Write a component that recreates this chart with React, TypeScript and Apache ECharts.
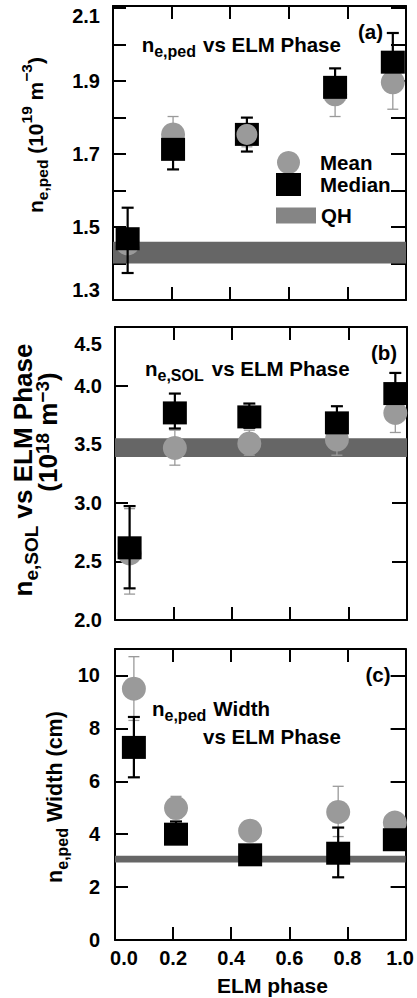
import React, { useEffect, useRef } from 'react';
import * as echarts from 'echarts';

// ---------- data ----------
const xTickValues = [0, 0.2, 0.4, 0.6, 0.8, 1.0];
const xTickLabels = ['0.0', '0.2', '0.4', '0.6', '0.8', '1.0'];

// panel (a): n_e,ped (1e19 m^-3)
const phaseA = [0.05, 0.205, 0.457, 0.758, 0.955];
const meanA = [1.455, 1.754, 1.754, 1.864, 1.897];
const meanLoA = [1.43, 1.72, 1.72, 1.803, 1.823];
const meanHiA = [1.48, 1.803, 1.78, 1.88, 1.95];
const medianA = [1.468, 1.713, 1.754, 1.883, 1.952];
const medLoA = [1.374, 1.658, 1.707, 1.86, 1.93];
const medHiA = [1.553, 1.74, 1.8, 1.935, 2.032];
const qhA = [1.4, 1.46];
const yLabelsA = [1.3, 1.5, 1.7, 1.9, 2.1];
const meanOnTopA = [2];

// panel (b): n_e,SOL (1e18 m^-3)
const phaseB = [0.05, 0.205, 0.46, 0.76, 0.96];
const meanB = [2.568, 3.468, 3.506, 3.54, 3.767];
const meanLoB = [2.221, 3.321, 3.406, 3.406, 3.6];
const meanHiB = [2.95, 3.62, 3.62, 3.6, 3.85];
const medianB = [2.616, 3.767, 3.733, 3.682, 3.932];
const medLoB = [2.27, 3.634, 3.64, 3.62, 3.88];
const medHiB = [2.972, 3.932, 3.847, 3.824, 4.108];
const qhB = [3.39, 3.55];
const yLabelsB = [2.0, 2.5, 3.0, 3.5, 4.0, 4.5];

// panel (c): n_e,ped width (cm)
const phaseC = [0.065, 0.21, 0.465, 0.768, 0.963];
const meanC = [9.5, 4.99, 4.13, 4.84, 4.44];
const meanLoC = [8.3, 4.6, 3.9, 3.91, 4.2];
const meanHiC = [10.71, 5.43, 4.35, 5.81, 4.7];
const medianC = [7.28, 4.0, 3.22, 3.28, 3.79];
const medLoC = [6.15, 3.7, 3.0, 2.37, 3.5];
const medHiC = [8.43, 4.48, 3.45, 4.25, 4.1];
const qhC = [2.93, 3.18];
const yLabelsC = [0, 2, 4, 6, 8, 10];

// ---------- styling ----------
const FONT = 'Liberation Sans, Arial, Helvetica, sans-serif';
const MEAN_COLOR = '#9a9a9a';
const QH_COLOR = '#666666';

const grids = [
  { left: 113, top: 6, width: 293, height: 294 },
  { left: 115, top: 327, width: 292, height: 293 },
  { left: 115, top: 649, width: 293, height: 291 },
];

const yAxisDefs = [
  { min: 1.3, max: 2.106, interval: 0.1, labels: yLabelsA, dec: 1, loPad: 20, hiPad: 16, margin: 13 },
  { min: 2.0, max: 4.5, interval: 0.5, labels: yLabelsB, dec: 1, loPad: 0, hiPad: 34, margin: 13 },
  { min: 0, max: 11, interval: 2, labels: yLabelsC, dec: 0, loPad: 0, hiPad: 0, margin: 15 },
];

const labelFont = { fontSize: 20, fontWeight: 'bold' as const, fontFamily: FONT, color: '#000' };

function near(a: number, b: number) {
  return Math.abs(a - b) < 1e-6;
}

function errorBar(color: string, width: number, cap: number) {
  return (params: any, api: any) => {
    const x = api.value(0);
    const lo = api.value(1);
    const hi = api.value(2);
    const pLo = api.coord([x, lo]);
    const pHi = api.coord([x, hi]);
    const style = { stroke: color, lineWidth: width, fill: 'none' };
    return {
      type: 'group',
      children: [
        { type: 'line', shape: { x1: pLo[0], y1: pLo[1], x2: pHi[0], y2: pHi[1] }, style },
        { type: 'line', shape: { x1: pLo[0] - cap / 2, y1: pLo[1], x2: pLo[0] + cap / 2, y2: pLo[1] }, style },
        { type: 'line', shape: { x1: pHi[0] - cap / 2, y1: pHi[1], x2: pHi[0] + cap / 2, y2: pHi[1] }, style },
      ],
    };
  };
}

function richText(size: number, sub: number, subShift: number, gap: number, supShift: number) {
  const base = { fontSize: size, fontWeight: 'bold', fontFamily: FONT, fill: '#000' };
  return {
    m: { ...base },
    s: { ...base, fontSize: sub, padding: [subShift * 2, 0, 0, 0] },
    p: { ...base, fontSize: sub, padding: [0, 0, supShift * 2, 0] },
    v: { ...base, padding: [0, 0, 0, gap] },
  };
}

function gText(
  text: string,
  x: number,
  y: number,
  size: number,
  sub: number,
  align: string,
  rotation = 0,
  subShift = 7,
  gap = 0,
  supShift = 9,
) {
  return {
    type: 'text',
    x,
    y,
    rotation,
    silent: true,
    style: {
      text,
      rich: richText(size, sub, subShift, gap, supShift),
      fontSize: size,
      fontWeight: 'bold',
      fontFamily: FONT,
      fill: '#000',
      align,
      verticalAlign: 'middle',
    },
  };
}

function buildOption() {
  const xAxis: any[] = [];
  const yAxis: any[] = [];
  grids.forEach((_, i) => {
    const bottomLabels = i === 2;
    xAxis.push({
      type: 'value',
      gridIndex: i,
      position: 'bottom',
      min: 0,
      max: 1,
      interval: 0.2,
      axisLine: { show: true, onZero: false, lineStyle: { color: '#000', width: 2 } },
      axisTick: { show: true, inside: true, length: 13, lineStyle: { color: '#000', width: 2 } },
      splitLine: { show: false },
      axisLabel: {
        show: bottomLabels,
        margin: 8,
        ...labelFont,
        formatter: (v: number) => {
          const idx = xTickValues.findIndex((t) => near(t, v));
          if (idx < 0) return '';
          if (idx === 0) return `{first|${xTickLabels[idx]}}`;
          if (idx === xTickValues.length - 1) return `{last|${xTickLabels[idx]}}`;
          return xTickLabels[idx];
        },
        rich: {
          first: { ...labelFont, padding: [0, 0, 0, 18] },
          last: { ...labelFont, padding: [0, 11, 0, 0] },
        },
      },
    });
    xAxis.push({
      type: 'value',
      gridIndex: i,
      position: 'top',
      min: 0,
      max: 1,
      interval: 0.2,
      axisLine: { show: true, onZero: false, lineStyle: { color: '#000', width: 2 } },
      axisTick: { show: true, inside: true, length: 13, lineStyle: { color: '#000', width: 2 } },
      splitLine: { show: false },
      axisLabel: { show: false },
    });
    const d = yAxisDefs[i];
    yAxis.push({
      type: 'value',
      gridIndex: i,
      position: 'left',
      min: d.min,
      max: d.max,
      interval: d.interval,
      axisLine: { show: true, onZero: false, lineStyle: { color: '#000', width: 2 } },
      axisTick: { show: true, inside: true, length: 13, lineStyle: { color: '#000', width: 2 } },
      splitLine: { show: false },
      axisLabel: {
        show: true,
        margin: d.margin,
        ...labelFont,
        formatter: (v: number) => {
          const idx = d.labels.findIndex((l) => near(l, v));
          if (idx < 0) return '';
          const txt = d.labels[idx].toFixed(d.dec);
          if (idx === 0 && d.loPad) return `{lo|${txt}}`;
          if (idx === d.labels.length - 1 && d.hiPad) return `{hi|${txt}}`;
          return txt;
        },
        rich: {
          lo: { ...labelFont, padding: [0, 0, d.loPad, 0] },
          hi: { ...labelFont, padding: [d.hiPad, 0, 0, 0] },
        },
      },
    });
    yAxis.push({
      type: 'value',
      gridIndex: i,
      position: 'right',
      min: d.min,
      max: d.max,
      interval: d.interval,
      axisLine: { show: true, onZero: false, lineStyle: { color: '#000', width: 2 } },
      axisTick: { show: true, inside: true, length: 15, lineStyle: { color: '#000', width: 2 } },
      splitLine: { show: false },
      axisLabel: { show: false },
    });
  });

  const panels = [
    { phase: phaseA, mean: meanA, mLo: meanLoA, mHi: meanHiA, med: medianA, dLo: medLoA, dHi: medHiA, qh: qhA, top: meanOnTopA },
    { phase: phaseB, mean: meanB, mLo: meanLoB, mHi: meanHiB, med: medianB, dLo: medLoB, dHi: medHiB, qh: qhB, top: [] as number[] },
    { phase: phaseC, mean: meanC, mLo: meanLoC, mHi: meanHiC, med: medianC, dLo: medLoC, dHi: medHiC, qh: qhC, top: [] as number[] },
  ];

  const series: any[] = [];
  panels.forEach((p, i) => {
    const axes = { xAxisIndex: 2 * i, yAxisIndex: 2 * i };
    series.push({
      name: 'QH',
      type: 'scatter',
      ...axes,
      data: [],
      itemStyle: { color: QH_COLOR },
      z: 1,
      silent: true,
      markArea: {
        silent: true,
        itemStyle: { color: QH_COLOR, opacity: 1 },
        label: { show: false },
        data: [[{ yAxis: p.qh[0] }, { yAxis: p.qh[1] }]],
      },
    });
    series.push({
      name: 'Mean error',
      type: 'custom',
      ...axes,
      z: 2,
      silent: true,
      encode: { x: 0, y: [1, 2] },
      data: p.phase.map((x, k) => [x, p.mLo[k], p.mHi[k]]),
      renderItem: errorBar(MEAN_COLOR, 1.3, 11),
    });
    series.push({
      name: 'Mean',
      type: 'scatter',
      ...axes,
      z: 3,
      silent: true,
      symbol: 'circle',
      symbolSize: 24,
      itemStyle: { color: MEAN_COLOR, opacity: 1 },
      data: p.phase.map((x, k) => [x, p.mean[k]]),
    });
    series.push({
      name: 'Median error',
      type: 'custom',
      ...axes,
      z: 4,
      silent: true,
      encode: { x: 0, y: [1, 2] },
      data: p.phase.map((x, k) => [x, p.dLo[k], p.dHi[k]]),
      renderItem: errorBar('#000', 2.2, 12),
    });
    series.push({
      name: 'Median',
      type: 'scatter',
      ...axes,
      z: 5,
      silent: true,
      symbol: 'rect',
      symbolSize: [24, 23],
      itemStyle: { color: '#000', opacity: 1 },
      data: p.phase.map((x, k) => [x, p.med[k]]),
    });
    if (p.top.length) {
      series.push({
        name: 'Mean (front)',
        type: 'scatter',
        ...axes,
        z: 6,
        silent: true,
        symbol: 'circle',
        symbolSize: 21,
        itemStyle: { color: MEAN_COLOR, opacity: 1 },
        data: p.top.map((k) => [p.phase[k], p.mean[k]]),
      });
    }
  });

  const legendText = { fontSize: 20.5, fontWeight: 'bold' as const, fontFamily: FONT, color: '#000' };

  return {
    animation: false,
    backgroundColor: '#ffffff',
    grid: grids.map((g) => ({ ...g, containLabel: false })),
    xAxis,
    yAxis,
    series,
    legend: [
      {
        orient: 'vertical',
        left: 271,
        top: 146,
        itemWidth: 25,
        itemHeight: 23,
        itemGap: -1,
        selectedMode: false,
        data: [
          { name: 'Mean', icon: 'circle', itemStyle: { color: MEAN_COLOR } },
          { name: 'Median', icon: 'rect', itemStyle: { color: '#000' } },
        ],
        textStyle: { ...legendText, lineHeight: 20, padding: [0, 0, 0, 14] },
      },
      {
        orient: 'vertical',
        left: 271,
        top: 200,
        itemWidth: 40,
        itemHeight: 16,
        selectedMode: false,
        data: [{ name: 'QH', icon: 'rect', itemStyle: { color: QH_COLOR } }],
        textStyle: { ...legendText, lineHeight: 20 },
      },
    ],
    graphic: [
      // in-plot titles
      gText('{m|n}{s|e,ped}{v|vs ELM Phase}', 141.7, 44.2, 20.5, 16, 'left', 0, 7, 7),
      gText('{m|n}{s|e,SOL}{v|vs ELM Phase}', 145, 368, 20.5, 16, 'left', 0, 7, 8),
      gText('{m|n}{s|e,ped}{v|Width}', 152, 708, 20.5, 16, 'left', 0, 7, 7),
      gText('{m|vs ELM Phase}', 203, 736, 20.5, 16, 'left'),
      // panel tags
      gText('{m|(a)}', 370.5, 31, 20.5, 16, 'center'),
      gText('{m|(b)}', 384, 352, 20.5, 16, 'center'),
      gText('{m|(c)}', 378, 674, 20.5, 16, 'center'),
      // y-axis titles
      gText('{m|n}{s|e,ped} {m|(10}{p|19}{m| m}{p|−3}{m|)}', 35, 135, 21, 15.5, 'center', Math.PI / 2, 7, 0, 9),
      gText('{m|n}{s|e,SOL} {m|vs ELM Phase}', 23, 470, 26, 19, 'center', Math.PI / 2, 8),
      gText('{m|(10}{p|18}{m| m}{p|−3}{m|)}', 48, 432, 26, 19, 'center', Math.PI / 2, 8, 0, 6),
      gText('{m|n}{s|e,ped} {m|Width (cm)}', 55, 797, 21.5, 16, 'center', Math.PI / 2, 7),
      // x-axis title
      gText('{m|ELM phase}', 272.5, 985, 21, 16, 'center'),
    ],
  };
}

export default function App() {
  const ref = useRef<HTMLDivElement>(null);
  useEffect(() => {
    if (!ref.current) return;
    const chart = echarts.init(ref.current, undefined, { renderer: 'svg' });
    chart.setOption(buildOption() as any);
    return () => chart.dispose();
  }, []);
  return (
    <div
      ref={ref}
      style={{ position: 'absolute', left: 0, top: 0, width: 417, height: 998, background: '#fff' }}
    />
  );
}
